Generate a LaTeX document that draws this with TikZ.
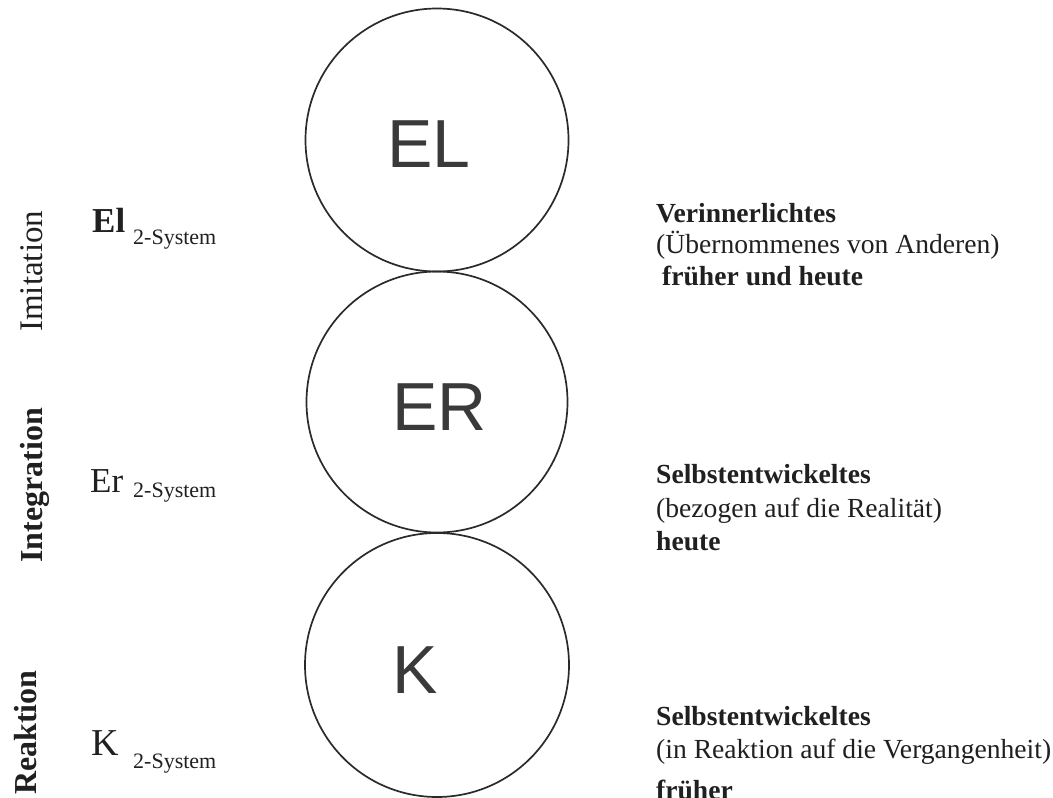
\documentclass[tikz,border=0pt]{standalone}
\usepackage{fontspec}
\setmainfont{Liberation Serif}
\newfontfamily\circfont{Liberation Sans}
\definecolor{ink}{HTML}{202020}
\definecolor{ringink}{HTML}{2A2A2A}
\definecolor{letterink}{HTML}{3A3A3A}
\tikzset{
  ring/.style={circle, draw=ringink, line width=1.7pt, inner sep=0pt},
  ringletter/.style={anchor=base west, inner sep=0pt, text=letterink,
    font=\circfont\fontsize{68}{70}\selectfont},
  sidelabel/.style={anchor=base west, inner sep=0pt, rotate=90, text=ink},
  sysmain/.style={anchor=base west, inner sep=0pt, text=ink},
  syssub/.style={anchor=base west, inner sep=0pt, text=ink,
    font=\fontsize{22}{24}\selectfont},
  desc/.style={anchor=base west, inner sep=0pt, text=ink,
    font=\fontsize{27.6}{31}\selectfont},
  descbold/.style={desc, font=\fontsize{27.6}{31}\selectfont\bfseries}
}
\begin{document}
\begin{tikzpicture}[x=1pt,y=-1pt]
\useasboundingbox (0,0) rectangle (1053,798);
\clip (0,0) rectangle (1053,798);
\fill[white] (0,0) rectangle (1053,798);

% the three stacked circles
\node[ring, minimum size=263pt] (el) at (437,140) {};
\node[ring, minimum size=261pt] (er) at (437,402) {};
\node[ring, minimum size=264pt] (k)  at (437,665) {};

\node[ringletter] (elt) at (387,167) {EL};
\node[ringletter] (ert) at (392,430) {ER};
\node[ringletter] (kt)  at (392,693) {K};

% rotated row labels
\node[sidelabel, font=\fontsize{33}{35}\selectfont] (imi) at (42,332) {Imitation};
\node[sidelabel, font=\fontsize{32}{34}\selectfont\bfseries] (integ) at (42,563) {Integration};
\node[sidelabel, font=\fontsize{32}{34}\selectfont\bfseries] (reak) at (36,795) {Reaktion};

% system labels
\node[sysmain, font=\fontsize{35}{37}\selectfont\bfseries] (elsys) at (92,232) {El};
\node[syssub] (elsub) at (133,244) {2-System};
\node[sysmain, font=\fontsize{35}{37}\selectfont] (ersys) at (90,492) {Er};
\node[syssub] (ersub) at (133,497) {2-System};
\node[sysmain, font=\fontsize{38}{40}\selectfont] (ksys) at (91,755) {K};
\node[syssub] (ksub) at (133,768) {2-System};

% descriptions
\node[descbold] (d1a) at (656,222) {Verinnerlichtes};
\node[desc]     (d1b) at (656,253) {(Übernommenes von Anderen)};
\node[descbold] (d1c) at (662,285) {früher und heute};

\node[descbold] (d2a) at (656,483) {Selbstentwickeltes};
\node[desc]     (d2b) at (656,517) {(bezogen auf die Realität)};
\node[descbold] (d2c) at (656,550) {heute};

\node[descbold] (d3a) at (656,725) {Selbstentwickeltes};
\node[desc]     (d3b) at (656,758) {(in Reaktion auf die Vergangenheit)};
\node[descbold] (d3c) at (656,799) {früher};
\end{tikzpicture}
\end{document}
